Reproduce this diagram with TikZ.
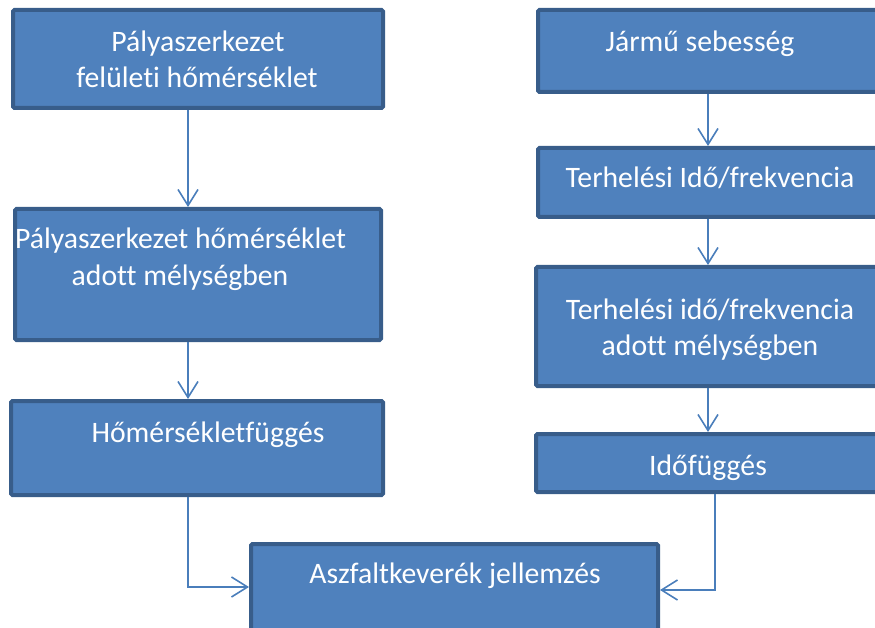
\documentclass[tikz,border=0pt]{standalone}
\usepackage{fontspec}
\setmainfont{Carlito}[RawFeature={-liga;-clig;-dlig;-calt}]
\usetikzlibrary{arrows.meta}
\definecolor{boxfill}{HTML}{4F81BD}
\definecolor{boxline}{HTML}{385D8A}
\definecolor{arrcol}{HTML}{4A7EBB}
\tikzset{
  box/.style={draw=boxline, fill=boxfill, line width=4pt, rounded corners=1.5pt, inner sep=0pt, rectangle},
  txt/.style={text=white, font=\fontsize{29.7}{35}\selectfont, anchor=base, inner sep=0pt},
  arr/.style={draw=arrcol, line width=1.6pt, -{Straight Barb[length=16pt,width=20pt,line width=1.6pt]}}
}
\begin{document}
\begin{tikzpicture}[x=1pt,y=-1pt]
\useasboundingbox (0,0) rectangle (875,628);
\clip (0,0) rectangle (875,628);
% boxes
\node[box, minimum width=370pt, minimum height=98pt] (b1) at (198,59) {};
\node[box, minimum width=347pt, minimum height=82pt] (b2) at (711.5,51) {};
\node[box, minimum width=347pt, minimum height=69pt] (b3) at (711.5,182.5) {};
\node[box, minimum width=366pt, minimum height=131pt] (b4) at (198,274.5) {};
\node[box, minimum width=372pt, minimum height=94pt] (b5) at (197,448) {};
\node[box, minimum width=349pt, minimum height=119pt] (b6) at (710.5,326.5) {};
\node[box, minimum width=349pt, minimum height=58pt] (b7) at (710.5,463) {};
\node[box, minimum width=407pt, minimum height=96pt] (b8) at (454.5,592) {};
% texts
\node[txt] (t1a) at (198,52) {Pályaszerkezet};
\node[txt] (t1b) at (197,88) {felületi hőmérséklet};
\node[txt] (t2) at (700,52) {Jármű sebesség};
\node[txt] (t3) at (710,188) {Terhelési Idő/frekvencia};
\node[txt] (t4a) at (180.5,249) {Pályaszerkezet hőmérséklet};
\node[txt] (t4b) at (180,285) {adott mélységben};
\node[txt] (t5) at (208,442) {Hőmérsékletfüggés};
\node[txt] (t6a) at (710,319) {Terhelési idő/frekvencia};
\node[txt] (t6b) at (710,355) {adott mélységben};
\node[txt] (t7) at (708,475) {Időfüggés};
\node[txt] (t8) at (455,583) {Aszfaltkeverék jellemzés};
% connector guide coordinates
\coordinate (xl) at (188,0);
\coordinate (xr) at (708,0);
\coordinate (xr2) at (715,0);
\coordinate (yl) at (0,587);
\coordinate (yr) at (0,590);
% arrows
\draw[arr] (b1.south -| xl) -- (b4.north -| xl);
\draw[arr] (b4.south -| xl) -- (b5.north -| xl);
\draw[arr] (b2.south -| xr) -- (b3.north -| xr);
\draw[arr] (b3.south -| xr) -- (b6.north -| xr);
\draw[arr] (b6.south -| xr) -- (b7.north -| xr);
\draw[arr] (b5.south -| xl) |- (b8.west |- yl);
\draw[arr] (b7.south -| xr2) |- (b8.east |- yr);
\end{tikzpicture}
\end{document}
